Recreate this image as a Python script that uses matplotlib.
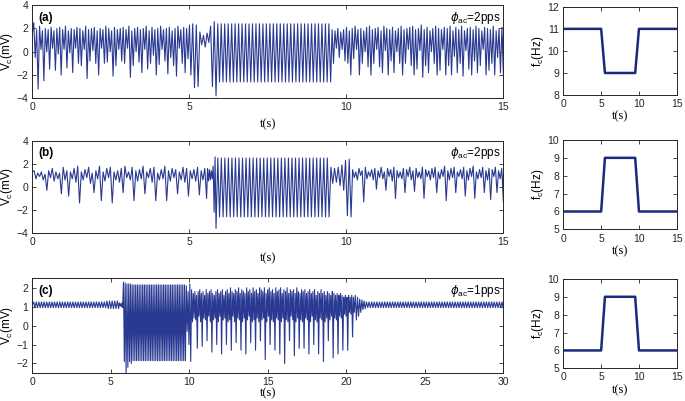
"""
Vc(t) 响应曲线 (a)(b)(c) 与右侧 fc(t) 驱动频率
"""
import matplotlib
matplotlib.use("Agg")
import matplotlib.pyplot as plt
import numpy as np

plt.rcParams['font.family'] = ['Liberation Sans', 'DejaVu Sans']
plt.rcParams['mathtext.default'] = 'regular'

# ---------------- 数据 ----------------
# 每段: (起始时间, 结束时间, 峰值列表, 谷值列表)，极值点在段内等间隔
# (a)
a_start = 1.5
a_seg1_pk = [2.5, 1.9, 2.2, 1.8, 2.0, 1.9, 2.1, 1.8, 2.0, 2.1, 1.9, 2.2, 1.8, 2.0, 1.9, 2.1, 2.0, 1.8, 2.2, 1.9,
             2.0, 2.1, 1.8, 2.0, 1.9, 2.2, 2.0, 1.8, 2.1, 1.9, 2.0, 2.1, 1.9, 2.2, 1.8, 2.0, 2.1, 1.9, 2.0, 2.2,
             1.8, 2.1, 1.9, 2.0, 2.2, 1.9, 2.0, 2.1, 1.8, 2.0, 2.2, 1.9, 2.1, 2.0, 2.3]
a_seg1_tr = [-0.5, -3.2, 0.2, -2.5, 0.0, -1.5, 0.3, -1.6, -0.2, -2.0, 0.2, -1.4, -0.1, -1.8, 0.3, -1.0, -1.2, 0.2,
             -2.3, -0.8, 0.1, -1.0, -2.0, 0.3, -1.0, -0.9, 0.0, -2.1, -1.2, 0.2, -0.8, -1.0, 0.3, -2.2, -1.2, 0.0,
             -0.9, -1.8, 0.2, -1.5, -1.0, -0.3, -2.0, -1.1, 0.2, -0.8, -1.9, -0.5, -1.2, -2.1, 0.3, -1.0, -1.8,
             -0.6, -2.0]
a_seg2_pk = [2.4, 2.3, 1.7, 1.4, 1.6, 2.2, 2.6]
a_seg2_tr = [-3.1, -3.0, 0.6, 0.4, 0.8, -3.0, -3.8]
a_seg3_pk = [2.4] * 33
a_seg3_tr = [-2.6] * 33
a_seg4_pk = [1.9, 1.8, 2.0, 1.7, 1.9, 2.1, 1.8, 2.0, 2.2, 1.9, 2.0, 1.8, 2.1, 2.2, 1.9, 2.0, 2.1, 1.8, 2.2, 2.0,
             1.9, 2.1, 1.8, 2.0, 2.2, 1.9, 2.0, 2.1, 2.2, 1.9, 2.0, 2.3, 1.9, 2.1, 1.8, 2.0, 2.2, 2.0, 1.9, 2.1,
             2.0, 2.2, 1.8, 2.1, 1.9, 2.2, 1.8, 2.0, 2.1, 1.9, 2.2, 2.0, 1.8, 2.1, 2.0, 1.9, 2.2, 1.8, 2.0, 2.1]
a_seg4_tr = [-1.0, 0.3, -0.5, 0.2, -0.8, -1.0, -2.0, -0.6, 0.2, -2.0, -1.0, 0.0, -1.3, -2.0, -1.0, 0.2, -1.3, -1.8,
             0.1, -2.0, -0.8, -1.8, 0.0, -1.0, -2.0, -1.0, 0.2, -1.2, -2.0, -1.5, 0.1, -2.2, -1.2, -1.8, 0.0, -1.0,
             -2.0, -1.6, 0.2, -2.0, -1.2, -2.0, -0.4, -1.8, -1.0, -2.1, 0.1, -1.5, -2.0, -0.8, -1.8, -1.2, 0.2,
             -2.0, -1.6, -1.0, -2.0, -0.5, -1.8, -1.9]
a_end = 1.2

# (b)
b_start = 1.3
b_seg1_pk = [1.4, 1.2, 1.3, 1.1, 1.4, 1.6, 1.3, 1.2, 1.7, 1.4, 1.3, 1.6, 1.8, 1.3, 1.5, 1.7, 1.2, 1.4, 1.8, 1.3,
             1.6, 1.7, 1.3, 1.4, 1.6, 1.8, 1.3, 1.7, 1.4, 1.5, 1.8, 1.3, 1.6, 1.7, 1.2, 1.5, 1.8, 1.4, 1.6, 1.5,
             1.3, 1.7, 1.6, 1.4, 1.5, 1.7, 1.4, 1.6]
b_seg1_tr = [0.7, 0.9, 0.6, -0.3, 0.8, 0.5, 0.7, -0.6, 0.6, -0.8, 0.7, 0.4, -1.4, 0.6, 0.8, 0.3, -0.5, 0.7, -1.2,
             0.5, 0.8, -1.4, 0.6, 0.4, -0.5, 0.8, 0.6, -1.2, 0.5, 0.7, -0.6, 0.8, 0.4, -1.2, 0.6, 0.7, -1.2, 0.5,
             0.8, -0.6, 0.6, 0.4, -0.8, 0.7, 0.5, -0.7, 0.6, -1.0]
b_seg2_pk = [1.6, 1.5, 1.4, 1.8, 2.6]
b_seg2_tr = [0.5, 0.6, 0.7, -2.2, -3.6]
b_seg3_pk = [2.5] * 32
b_seg3_tr = [-2.6] * 32
b_seg4_pk = [1.7, 1.6, 1.7, 1.9, 2.3, 2.4]
b_seg4_tr = [0.3, 0.4, 0.1, -0.3, -2.5, -2.6]
b_seg5_pk = [1.5, 1.3, 1.6, 1.4, 1.7, 1.3, 1.5, 1.6, 1.4, 1.7, 1.3, 1.6, 1.5, 1.7, 1.4, 1.3, 1.6, 1.5, 1.7, 1.4,
             1.6, 1.3, 1.7, 1.5, 1.4, 1.6, 1.7, 1.3, 1.5, 1.8, 1.4, 1.6, 1.7, 1.3, 1.5, 1.7, 1.4, 1.6, 1.8, 1.3,
             1.5, 1.7, 1.4, 1.6, 1.5, 1.7, 1.4, 1.6]
b_seg5_tr = [0.8, 0.6, 1.0, -1.3, 0.7, 0.9, 0.6, -0.2, 0.8, 0.7, -0.3, 0.9, 0.5, -1.0, 0.8, 0.7, -0.5, 0.9, 0.6,
             -0.4, 0.8, 0.7, -1.0, 0.9, 0.6, 0.8, -0.5, 0.7, 0.9, -1.2, 0.6, 0.8, -0.5, 0.9, 0.7, -0.8, 0.6, 0.9,
             -1.0, 0.7, 0.8, -0.5, 0.6, -1.1, 0.9, -0.5, 0.7, -1.3]
b_end = 1.0

# (c)
c_start = 1.1
c_seg1_pk = [1.25] * 28 + [1.3] * 5
c_seg1_tr = [0.95] * 28 + [0.9] * 5
c_seg2_pk = [1.2, 1.15, 1.2]
c_seg2_tr = [1.05, 1.0, 0.95]
c_seg3_pk = [2.3, 2.25, 2.2, 2.2, 2.2] + [2.15] * 31
c_seg3_tr = [-1.9, -2.5, -2.2, -1.9, -2.0] + [-1.85] * 31
c_seg4_pk = [2.1, 1.8, 2.2, 1.9]
c_seg4_tr = [-0.3, -1.0, -1.9, 0.2]
c_seg5_pk = [1.7, 1.8, 1.6, 1.8, 1.9, 1.7, 1.8, 1.6, 1.9, 1.7, 1.8, 1.9, 1.7, 1.6, 1.8, 1.9, 1.7, 1.8, 1.9, 1.6,
             1.8, 1.9, 1.7, 2.0, 1.8, 1.7, 1.9, 1.8, 2.0, 1.7, 1.9, 1.8, 1.7, 2.0, 1.8, 1.9, 1.7, 2.0, 1.8, 1.9,
             1.7, 2.0, 1.9, 1.8, 2.0, 1.7, 1.9, 2.0, 1.8, 1.9, 1.7, 2.0, 1.8, 1.9, 2.0, 1.7, 1.9, 1.8, 2.0, 1.7,
             1.9, 1.8, 1.9, 1.7, 2.0, 1.8, 1.7, 1.9, 1.8, 1.9, 1.7, 1.8, 1.9, 1.7, 1.8, 1.9, 1.6, 1.8, 1.7, 1.9,
             1.7, 1.8, 1.6, 1.8, 1.7, 1.6, 1.8, 1.7, 1.6, 1.7, 1.6, 1.7, 1.6, 1.5, 1.6, 1.5, 1.6, 1.5, 1.6, 1.5]
c_seg5_tr = [0.4, 0.3, -1.2, 0.5, 0.2, -1.1, 0.4, 0.3, -0.8, 0.5, 0.2, -1.4, 0.3, 0.4, -1.0, 0.2, 0.5, -1.5,
             0.3, 0.4, -1.0, 0.2, 0.3, -1.3, 0.5, 0.2, -0.9, 0.4, 0.3, -1.3, 0.2, 0.4, -1.5, 0.3, 0.5, -0.9,
             0.2, 0.3, -1.3, 0.4, 0.2, -0.8, 0.3, 0.4, -1.8, 0.2, 0.5, -1.0, 0.3, 0.2, -1.3, 0.4, 0.3, -1.5,
             0.2, 0.4, -2.0, 0.3, 0.2, -0.8, 0.5, 0.3, -1.6, 0.2, 0.4, -1.2, 0.3, 0.2, -1.2, 0.4, 0.3, -1.5,
             0.2, 0.5, -1.0, 0.3, 0.2, -1.5, 0.4, 0.3, -1.9, 0.2, 0.4, -0.8, 0.3, 0.5, -1.7, 0.4, 0.3, -1.5,
             0.5, 0.4, -1.3, 0.6, 0.5, -1.3, 0.7, 0.6, -0.6, 0.7]
c_seg6_pk = [1.6, 1.5, 1.4, 1.35, 1.3]
c_seg6_tr = [0.3, 0.5, 0.7, 0.85, 0.9]
c_seg7_pk = [1.25] * 53
c_seg7_tr = [0.95] * 53
c_end = 1.1

seg_a = [(0.0, 5.05, a_seg1_pk, a_seg1_tr), (5.05, 5.85, a_seg2_pk, a_seg2_tr),
         (5.85, 9.5, a_seg3_pk, a_seg3_tr), (9.5, 15.0, a_seg4_pk, a_seg4_tr)]
seg_b = [(0.0, 5.55, b_seg1_pk, b_seg1_tr), (5.55, 5.85, b_seg2_pk, b_seg2_tr),
         (5.85, 9.45, b_seg3_pk, b_seg3_tr), (9.45, 10.15, b_seg4_pk, b_seg4_tr),
         (10.15, 15.0, b_seg5_pk, b_seg5_tr)]
seg_c = [(0.0, 5.5, c_seg1_pk, c_seg1_tr), (5.5, 5.75, c_seg2_pk, c_seg2_tr),
         (5.75, 9.75, c_seg3_pk, c_seg3_tr), (9.75, 10.2, c_seg4_pk, c_seg4_tr),
         (10.2, 20.5, c_seg5_pk, c_seg5_tr), (20.5, 21.2, c_seg6_pk, c_seg6_tr),
         (21.2, 30.0, c_seg7_pk, c_seg7_tr)]

# 右侧 fc(t)
t_fc = [0, 5, 5.5, 9.5, 10, 15]
fc_a = [11, 11, 9, 9, 11, 11]
fc_b = [6, 6, 9, 9, 6, 6]
fc_c = [6, 6, 9, 9, 6, 6]

labels = ['(a)', '(b)', '(c)']
phis = ['2pps', '2pps', '1pps']


def build(start, segs, end):
    """把峰谷列表连成折线"""
    ts, vs = [0.0], [start]
    for t0, t1, pk, tr in segs:
        vals = []
        for p, q in zip(pk, tr):
            vals += [p, q]
        tt = np.linspace(t0, t1, len(vals) + 1)[1:]
        ts += list(tt)
        vs += vals
    ts.append(segs[-1][1])
    vs.append(end)
    return np.array(ts), np.array(vs)


sig = [build(a_start, seg_a, a_end), build(b_start, seg_b, b_end), build(c_start, seg_c, c_end)]
fcs = [fc_a, fc_b, fc_c]

# ---------------- 绘图 ----------------
fig = plt.figure(figsize=(6.85, 4.01), dpi=100)

left_pos = [[0.0472, 0.755, 0.6876, 0.232],
            [0.0472, 0.419, 0.6876, 0.230],
            [0.0472, 0.070, 0.6876, 0.236]]
right_pos = [[0.8224, 0.763, 0.1656, 0.220],
             [0.8224, 0.428, 0.1656, 0.223],
             [0.8224, 0.0815, 0.1656, 0.223]]
ylims = [(-4, 4), (-4, 4), (-2.5, 2.5)]
yticks = [[-4, -2, 0, 2, 4], [-4, -2, 0, 2, 4], [-2, -1, 0, 1, 2]]
xmax = [15, 15, 30]
xstep = [5, 5, 5]
fylims = [(8, 12), (5, 10), (5, 10)]
xl_pad = [4, 4, 0]

line_col = '#2a3a92'
fc_col = '#1a2a7c'
edge = '#262626'


def style(ax):
    ax.tick_params(direction='in', top=True, right=True, labelsize=7.5, colors=edge,
                   length=3, width=0.6, pad=3)
    for s in ax.spines.values():
        s.set_linewidth(0.7)
        s.set_color(edge)


for i in range(3):
    ax = fig.add_axes(left_pos[i])
    t, v = sig[i]
    ax.plot(t, v, color=line_col, lw=0.8)
    ax.set_xlim(0, xmax[i])
    ax.set_ylim(*ylims[i])
    ax.set_xticks(np.arange(0, xmax[i] + 1, xstep[i]))
    ax.set_yticks(yticks[i])
    style(ax)
    ax.set_ylabel('V$_c$(mV)', fontsize=8.5, labelpad=1)
    ax.set_xlabel('t(s)', fontsize=9, family='Liberation Serif', labelpad=xl_pad[i])
    ax.text(0.013, 0.93, labels[i], transform=ax.transAxes, fontsize=8.5,
            fontweight='bold', va='top', ha='left')
    ax.text(0.995, 0.95, r'$\mathit{\phi}_{ac}$=' + phis[i], transform=ax.transAxes, fontsize=8.5,
            va='top', ha='right')

    axr = fig.add_axes(right_pos[i])
    axr.plot(t_fc, fcs[i], color=fc_col, lw=1.8)
    axr.set_xlim(0, 15)
    axr.set_ylim(*fylims[i])
    axr.set_xticks([0, 5, 10, 15])
    axr.set_yticks(np.arange(fylims[i][0], fylims[i][1] + 1, 1))
    style(axr)
    axr.set_ylabel('f$_c$(Hz)', fontsize=8.5, labelpad=1)
    axr.set_xlabel('t(s)', fontsize=9, family='Liberation Serif', labelpad=1)

fig.savefig('out.png', dpi=100)
